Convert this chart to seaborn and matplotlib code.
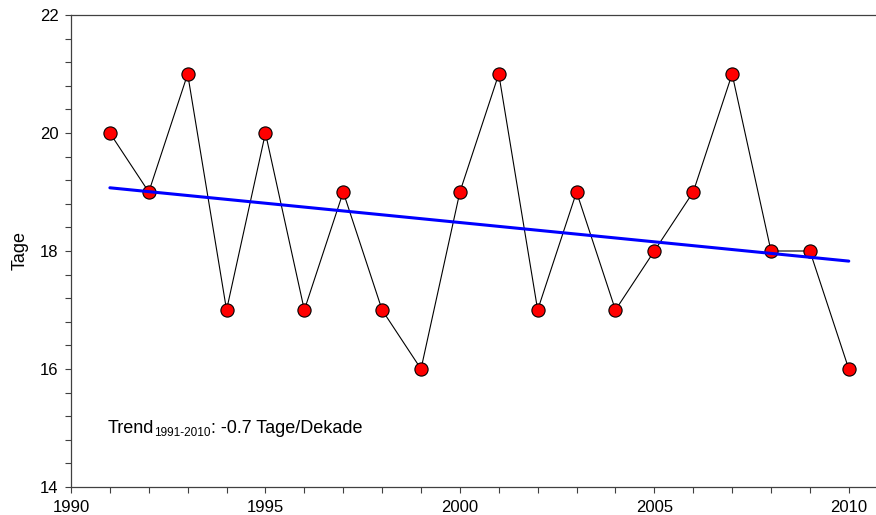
import matplotlib
matplotlib.use("Agg")
import matplotlib.pyplot as plt
import seaborn as sns
import numpy as np
import pandas as pd
from matplotlib.ticker import MultipleLocator

years = [1991, 1992, 1993, 1994, 1995, 1996, 1997, 1998, 1999, 2000,
         2001, 2002, 2003, 2004, 2005, 2006, 2007, 2008, 2009, 2010]
tage = [20, 19, 21, 17, 20, 17, 19, 17, 16, 19,
        21, 17, 19, 17, 18, 19, 21, 18, 18, 16]
x_ticks = [1990, 1995, 2000, 2005, 2010]
y_ticks = [14, 16, 18, 20, 22]
trend_main = "Trend"
trend_sub = "1991-2010"
trend_rest = ": -0.7 Tage/Dekade"

df = pd.DataFrame({"Jahr": years, "Tage": tage})

sns.set_style("white")
plt.rcParams["font.family"] = ["Liberation Sans", "DejaVu Sans"]
plt.rcParams["text.color"] = "black"
plt.rcParams["axes.labelcolor"] = "black"
plt.rcParams["xtick.color"] = "black"
plt.rcParams["ytick.color"] = "black"

fig = plt.figure(figsize=(8.76, 5.15), dpi=100)
ax = fig.add_axes([71/876, (515-487)/515, (876-71)/876, (487-15)/515])

sns.lineplot(data=df, x="Jahr", y="Tage", ax=ax, color="black", linewidth=0.8,
             marker="o", markersize=9.5, markerfacecolor="#ff0000",
             markeredgecolor="black", markeredgewidth=0.8, zorder=3)
sns.regplot(data=df, x="Jahr", y="Tage", ax=ax, scatter=False, ci=None,
            color="#0000ff", line_kws={"linewidth": 2.2, "zorder": 4})

ax.set_xlim(1990, 2010.7)
ax.set_ylim(14, 22)
ax.set_xticks(x_ticks)
ax.set_yticks(y_ticks)
ax.xaxis.set_minor_locator(MultipleLocator(1))
ax.yaxis.set_minor_locator(MultipleLocator(0.4))
ax.tick_params(which="both", direction="out", length=4, width=0.8,
               color="#404040", labelcolor="black", labelsize=12, pad=5,
               bottom=True, left=True)
ax.set_xlabel("")
ax.set_ylabel("Tage", fontsize=13, labelpad=8)
for s in ["left", "top", "bottom"]:
    ax.spines[s].set_color("#404040")
    ax.spines[s].set_linewidth(0.9)
ax.spines["right"].set_visible(False)

tx, ty = 1990.93, 14.92
t1 = ax.text(tx, ty, trend_main, fontsize=13, va="baseline", ha="left")
t2 = ax.annotate(trend_sub, xy=(1, 0), xycoords=t1, xytext=(0.3, 0.3),
                 textcoords="offset points", fontsize=8.5, va="baseline", ha="left")

fig.canvas.draw()
r = fig.canvas.get_renderer()
bb2 = t2.get_window_extent(r)
base_y = ax.transData.transform((tx, ty))[1]
ax.annotate(trend_rest, xy=(bb2.x1 + 0.5, base_y), xycoords="figure pixels",
            fontsize=13, va="baseline", ha="left", annotation_clip=False)

fig.savefig("out.png", dpi=100)
